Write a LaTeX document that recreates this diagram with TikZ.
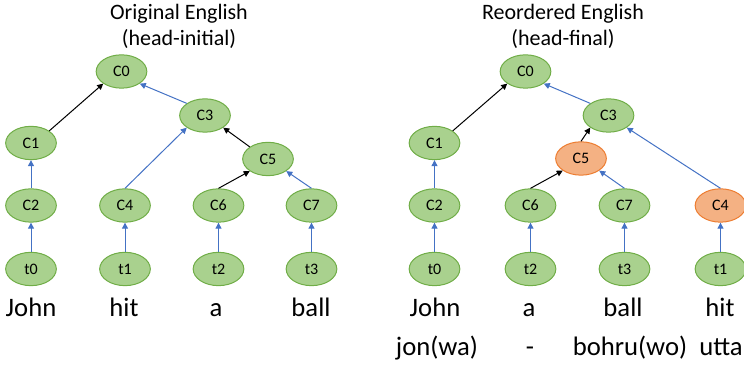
\documentclass[tikz,border=0pt]{standalone}
\usepackage{fontspec}
\setmainfont{Carlito}
\usetikzlibrary{arrows.meta,shapes.geometric}

\definecolor{nodegreen}{RGB}{169,209,142}
\definecolor{rimgreen}{RGB}{112,173,71}
\definecolor{nodeorange}{RGB}{244,177,131}
\definecolor{rimorange}{RGB}{237,125,49}
\definecolor{linkblue}{RGB}{68,114,196}

\tikzset{every picture/.style={line width=0.75pt}}
\tikzset{
  cnode/.style={ellipse, draw=rimgreen, fill=nodegreen, minimum width=38pt, minimum height=25pt, inner sep=0pt, font=\fontsize{12}{14}\selectfont},
  moved/.style={cnode, draw=rimorange, fill=nodeorange},
  headlink/.style={draw=linkblue, -{Triangle[length=4.5pt,width=4.5pt]}},
  deplink/.style={draw=black, -{Triangle[length=4.5pt,width=4.5pt]}},
  word/.style={anchor=base, font=\fontsize{20}{24}\selectfont},
  heading/.style={align=center, font=\fontsize{16.5}{20}\selectfont}
}

\begin{document}
\begin{tikzpicture}[x=0.75pt,y=0.75pt,yscale=-1,xscale=1]
	\path[use as bounding box] (0,0) rectangle (744,366);

	% Text Node
	\node[heading] (headL) at (179,26.5) {Original English\\(head-initial)};
	% Text Node
	\node[heading] (headR) at (563,26.5) {Reordered English\\(head-final)};

	%Left tree
	\node[cnode] (lC0) at (121.5,71.5) {C0};
	\node[cnode] (lC1) at (31,143) {C1};
	\node[cnode] (lC3) at (205,115.5) {C3};
	\node[cnode] (lC5) at (268,159) {C5};
	\node[cnode] (lC2) at (31,205.5) {C2};
	\node[cnode] (lC4) at (125,205.5) {C4};
	\node[cnode] (lC6) at (218.5,205.5) {C6};
	\node[cnode] (lC7) at (311.5,205.5) {C7};
	\node[cnode] (lt0) at (31,269) {t0};
	\node[cnode] (lt1) at (125,269) {t1};
	\node[cnode] (lt2) at (218.5,269) {t2};
	\node[cnode] (lt3) at (311.5,269) {t3};

	\draw[deplink] (lC1.north east) -- (lC0.south west);
	\draw[headlink] (lC3.north west) -- (lC0.south east);
	\draw[headlink] (lC4.north) -- (lC3.south west);
	\draw[deplink] (lC5.north west) -- (lC3.south east);
	\draw[deplink] (lC6.north) -- (lC5.south west);
	\draw[headlink] (lC7.north) -- (lC5.south east);
	\draw[headlink] (lC2) -- (lC1);
	\foreach \c/\t in {C2/t0,C4/t1,C6/t2,C7/t3}
	  \draw[headlink] (l\t) -- (l\c);

	% Text Node
	\node[word] (lw0) at (31,317) {John};
	\node[word] (lw1) at (124,317) {hit};
	\node[word] (lw2) at (216,317) {a};
	\node[word] (lw3) at (311,317) {ball};

	%Right tree
	\node[cnode] (rC0) at (525.5,71.5) {C0};
	\node[cnode] (rC1) at (434.5,143) {C1};
	\node[cnode] (rC3) at (608.5,115.5) {C3};
	\node[moved] (rC5) at (581,158.5) {C5};
	\node[cnode] (rC2) at (434.5,205.5) {C2};
	\node[cnode] (rC6) at (530.5,205.5) {C6};
	\node[cnode] (rC7) at (624.5,205.5) {C7};
	\node[moved] (rC4) at (720.5,205.5) {C4};
	\node[cnode] (rt0) at (434.5,269) {t0};
	\node[cnode] (rt2) at (530.5,269) {t2};
	\node[cnode] (rt3) at (624.5,269) {t3};
	\node[cnode] (rt1) at (720.5,269) {t1};

	\draw[deplink] (rC1.north east) -- (rC0.south west);
	\draw[headlink] (rC3.north west) -- (rC0.south east);
	\draw[deplink] (rC5.north) -- (rC3.south west);
	\draw[headlink] (rC4.north) -- (rC3.south east);
	\draw[deplink] (rC6.north) -- (rC5.south west);
	\draw[headlink] (rC7.north) -- (rC5.south east);
	\draw[headlink] (rC2) -- (rC1);
	\foreach \c/\t in {C2/t0,C6/t2,C7/t3,C4/t1}
	  \draw[headlink] (r\t) -- (r\c);

	% Text Node
	\node[word] (rw0) at (435,317) {John};
	\node[word] (rw1) at (529,317) {a};
	\node[word] (rw2) at (623,317) {ball};
	\node[word] (rw3) at (720,317) {hit};
	% Text Node
	\node[word] (jw0) at (437,356) {jon(wa)};
	\node[word] (jw1) at (530,356) {-};
	\node[word] (jw2) at (630,356) {bohru(wo)};
	\node[word] (jw3) at (721,356) {utta};
\end{tikzpicture}
\end{document}
